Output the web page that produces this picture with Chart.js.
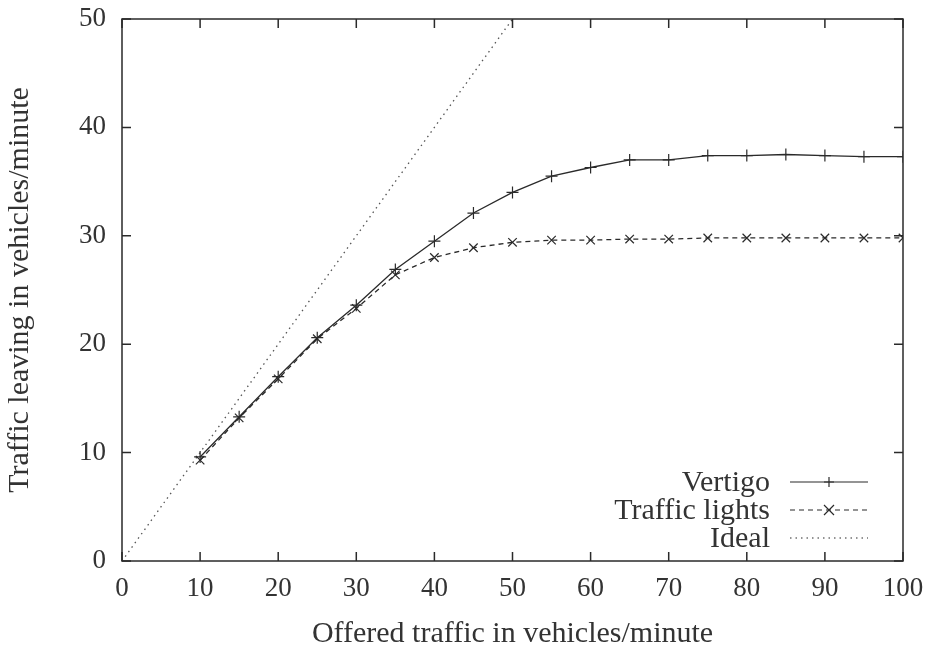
<!DOCTYPE html>
<html>
<head>
<meta charset="utf-8">
<script src="https://cdn.jsdelivr.net/npm/chart.js"></script>
<style>
  html, body { margin: 0; padding: 0; background: #fff; }
  #wrap { width: 936px; height: 656px; }
</style>
</head>
<body>
<div id="wrap"><canvas id="chart" width="936" height="656"></canvas></div>
<script>
const offered = [10, 15, 20, 25, 30, 35, 40, 45, 50, 55, 60, 65, 70, 75, 80, 85, 90, 95, 100];
const vertigo = [9.6, 13.3, 17.0, 20.6, 23.6, 26.9, 29.5, 32.1, 34.0, 35.5, 36.3, 37.0, 37.0, 37.4, 37.4, 37.5, 37.4, 37.3, 37.3];
const trafficLights = [9.3, 13.2, 16.8, 20.5, 23.3, 26.4, 28.0, 28.9, 29.4, 29.6, 29.6, 29.7, 29.7, 29.8, 29.8, 29.8, 29.8, 29.8, 29.8];
const idealX = [0, 100];
const xTicks = [0, 10, 20, 30, 40, 50, 60, 70, 80, 90, 100];
const yTicks = [0, 10, 20, 30, 40, 50];

const font = "'Liberation Serif', 'DejaVu Serif', serif";
const ink = "#2a2a2a";
const textInk = "#333";

const toPoints = (xs, ys) => xs.map((x, i) => ({ x: x, y: ys[i] }));

// gnuplot-style frame with inward ticks on all four sides
const framePlugin = {
    id: "frame",
    afterDraw(chart) {
        const { ctx, chartArea: a, scales } = chart;
        ctx.save();
        ctx.strokeStyle = ink;
        ctx.lineWidth = 1.5;
        ctx.strokeRect(a.left, a.top, a.right - a.left, a.bottom - a.top);
        ctx.beginPath();
        xTicks.forEach((v) => {
            const px = scales.x.getPixelForValue(v);
            ctx.moveTo(px, a.bottom); ctx.lineTo(px, a.bottom - 9);
            ctx.moveTo(px, a.top); ctx.lineTo(px, a.top + 9);
        });
        yTicks.forEach((v) => {
            const py = scales.y.getPixelForValue(v);
            ctx.moveTo(a.left, py); ctx.lineTo(a.left + 9, py);
            ctx.moveTo(a.right, py); ctx.lineTo(a.right - 9, py);
        });
        ctx.stroke();

        // legend, text right-aligned then a sample of the line
        const rows = [
            { label: "Vertigo", dash: [], marker: "plus" },
            { label: "Traffic lights", dash: [5, 4], marker: "x" },
            { label: "Ideal", dash: [1.5, 4], marker: null },
        ];
        ctx.font = "30px " + font;
        ctx.fillStyle = textInk;
        ctx.textAlign = "right";
        ctx.textBaseline = "middle";
        rows.forEach((r, i) => {
            const y = a.bottom - 79 + i * 28;
            ctx.fillText(r.label, a.right - 133, y + 1);
            ctx.setLineDash(r.dash);
            ctx.lineWidth = 1.2;
            ctx.beginPath();
            ctx.moveTo(a.right - 113, y);
            ctx.lineTo(a.right - 35, y);
            ctx.stroke();
            ctx.setLineDash([]);
            const cx = a.right - 74;
            ctx.beginPath();
            if (r.marker === "plus") {
                ctx.moveTo(cx, y - 5); ctx.lineTo(cx, y + 5);
                ctx.moveTo(cx - 5, y); ctx.lineTo(cx + 5, y);
            } else if (r.marker === "x") {
                ctx.moveTo(cx - 5, y - 5); ctx.lineTo(cx + 5, y + 5);
                ctx.moveTo(cx - 5, y + 5); ctx.lineTo(cx + 5, y - 5);
            }
            ctx.stroke();
        });
        ctx.restore();
    }
};

new Chart(document.getElementById("chart"), {
    type: "scatter",
    data: {
        datasets: [
            {
                label: "Vertigo",
                data: toPoints(offered, vertigo),
                showLine: true,
                borderColor: ink,
                borderWidth: 1.3,
                pointStyle: "cross",
                pointRadius: 6,
                pointBorderColor: ink,
                pointBorderWidth: 1.2,
            }, {
                label: "Traffic lights",
                data: toPoints(offered, trafficLights),
                showLine: true,
                borderColor: ink,
                borderWidth: 1.3,
                borderDash: [5, 4],
                pointStyle: "crossRot",
                pointRadius: 6,
                pointBorderColor: ink,
                pointBorderWidth: 1.2,
            }, {
                label: "Ideal",
                data: toPoints(idealX, idealX),
                showLine: true,
                borderColor: "#555",
                borderWidth: 1.3,
                borderDash: [1.5, 4],
                pointRadius: 0,
            }
        ]
    },
    options: {
        responsive: false,
        animation: false,
        layout: { padding: { top: 19, right: 33, left: 2, bottom: 0 } },
        plugins: {
            legend: { display: false },
            tooltip: { enabled: false },
        },
        scales: {
            x: {
                type: "linear",
                min: 0,
                max: 100,
                afterBuildTicks: (s) => { s.ticks = xTicks.map((v) => ({ value: v })); },
                afterFit: (s) => { s.height = 95; s.paddingLeft = 0; s.paddingRight = 0; },
                grid: { display: false },
                border: { display: false },
                ticks: { color: textInk, font: { family: font, size: 27 }, padding: 4 },
                title: {
                    display: true,
                    text: "Offered traffic in vehicles/minute",
                    color: textInk,
                    font: { family: font, size: 30 },
                    padding: { top: 6, bottom: 4 },
                },
            },
            y: {
                type: "linear",
                min: 0,
                max: 50,
                afterBuildTicks: (s) => { s.ticks = yTicks.map((v) => ({ value: v })); },
                afterFit: (s) => { s.width = 120; s.paddingTop = 0; s.paddingBottom = 0; },
                grid: { display: false },
                border: { display: false },
                ticks: { color: textInk, font: { family: font, size: 27 }, padding: 8 },
                title: {
                    display: true,
                    text: "Traffic leaving in vehicles/minute",
                    color: textInk,
                    font: { family: font, size: 30 },
                    padding: { top: 0, bottom: 4 },
                },
            }
        }
    },
    plugins: [framePlugin]
});
</script>
</body>
</html>
